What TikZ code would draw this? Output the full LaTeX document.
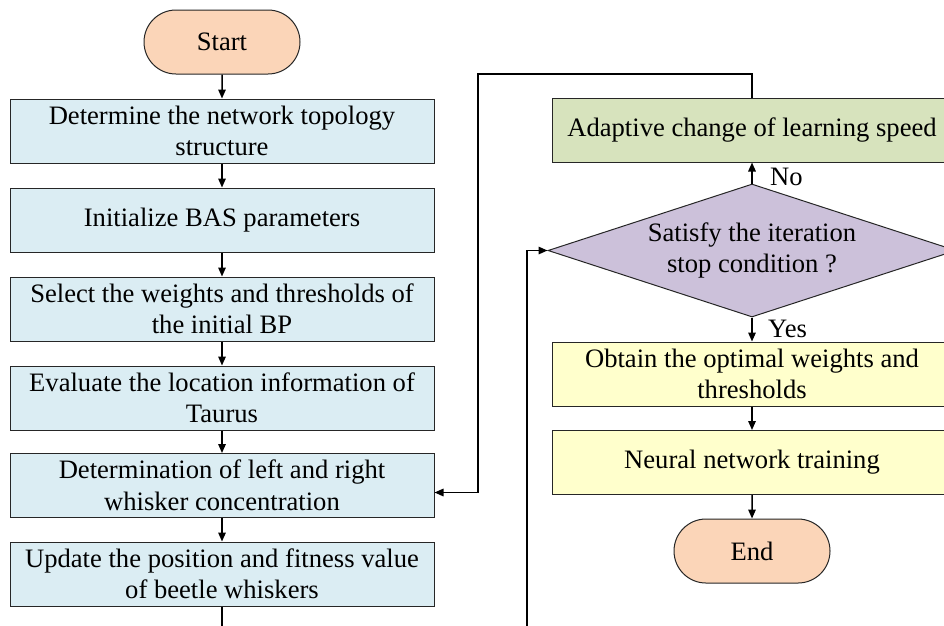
\documentclass[tikz,border=0pt]{standalone}
\usepackage{fontspec}
\setmainfont{Liberation Serif}
\usetikzlibrary{shapes.geometric,shapes.misc,arrows.meta,calc}
\definecolor{peach}{HTML}{FBD5B8}
\definecolor{lblue}{HTML}{DBEDF3}
\definecolor{lgreen}{HTML}{D7E3BD}
\definecolor{lpurple}{HTML}{CCC1DA}
\definecolor{lyellow}{HTML}{FFFFCC}
\tikzset{
  base/.style={draw=black!85, line width=1pt, align=center, inner sep=0pt,
    font=\fontsize{26.6}{31.5}\selectfont},
  procbox/.style={base, rectangle, minimum width=424pt, minimum height=64pt, fill=lblue},
  rbox/.style={base, rectangle, minimum width=400pt, minimum height=64pt},
  term/.style={base, rounded rectangle, minimum width=156pt, minimum height=64pt, fill=peach},
  decis/.style={base, diamond, aspect=3.07, minimum width=408pt, minimum height=133pt, fill=lpurple},
  arr/.style={line width=1.5pt, -{Triangle[length=9pt,width=7.5pt]}},
  plain/.style={line width=1.5pt},
  lbl/.style={font=\fontsize{26.6}{31.5}\selectfont, inner sep=0pt, anchor=west}
}
\begin{document}
\begin{tikzpicture}[x=1pt,y=-1pt]
\useasboundingbox (0,0) rectangle (944,625);
\clip (0,0) rectangle (944,625);
\fill[white] (0,0) rectangle (944,625);
% left column
\node[term] (start) at (222,42) {Start};
\node[procbox] (b1) at (222,131) {Determine the network topology\\structure};
\node[procbox] (b2) at (222,220) {Initialize BAS parameters};
\node[procbox] (b3) at (222,309) {Select the weights and thresholds of\\the initial BP};
\node[procbox] (b4) at (222,398) {Evaluate the location information of\\Taurus};
\node[procbox] (b5) at (222,485.5) {Determination of left and right\\whisker concentration};
\node[procbox] (b6) at (222,574) {Update the position and fitness value\\of beetle whiskers};
% right column
\node[rbox, fill=lgreen] (adapt) at (752,130) {Adaptive change of learning speed};
\node[decis] (dia) at (752,250.5) {Satisfy the iteration\\stop condition ?};
\node[rbox, fill=lyellow] (obt) at (752,374) {Obtain the optimal weights and\\thresholds};
\node[rbox, fill=lyellow] (nn) at (752,462.5) {Neural network training};
\node[term] (end) at (752,551) {End};
% coordinates
\coordinate (botL) at (222,630);
\coordinate (botR) at (527,630);
\coordinate (topL) at (478,74);
% connectors
\draw[arr] (start) -- (b1);
\draw[arr] (b1) -- (b2);
\draw[arr] (b2) -- (b3);
\draw[arr] (b3) -- (b4);
\draw[arr] (b4) -- (b5);
\draw[arr] (b5) -- (b6);
\draw[plain] (b6) -- (botL);
\draw[arr] (botR) |- (dia.west);
\draw[arr] (dia.south) -- (obt.north);
\draw[arr] (dia.north) -- (adapt.south);
\draw[arr] (obt) -- (nn);
\draw[arr] (nn) -- (end);
\draw[arr] (adapt.north) |- (topL) |- ([yshift=-7pt]b5.east);
% labels
\node[lbl] (no) at (770,177) {No};
\node[lbl] (yes) at (768,329) {Yes};
\end{tikzpicture}
\end{document}
